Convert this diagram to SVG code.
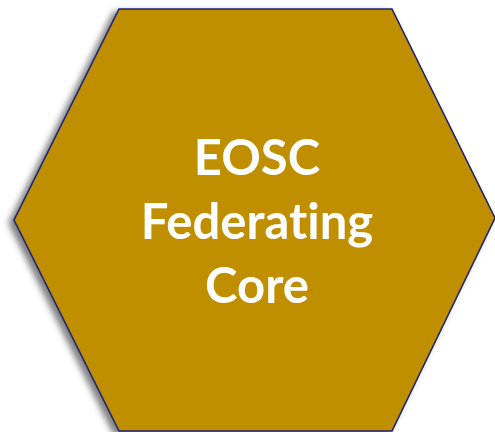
<svg xmlns="http://www.w3.org/2000/svg" width="495" height="432" viewBox="0 0 495 432">
<style>
.hex{fill:#BF8F00;stroke:#1F236E;stroke-width:1.6;stroke-linejoin:miter}
.lbl{font-family:Lato,"Open Sans","Liberation Sans",sans-serif;font-weight:bold;font-size:49px;fill:#FFFFFF;text-anchor:middle;font-variant-ligatures:none;font-feature-settings:"liga" 0}
</style>
<defs>
<filter id="sh" x="-10%" y="-10%" width="120%" height="120%">
<feDropShadow dx="-5" dy="3" stdDeviation="3" flood-color="#000" flood-opacity="0.5"/>
</filter>
</defs>
<rect width="495" height="432" fill="#FFFFFF"/>
<g id="core">
<polygon class="hex" filter="url(#sh)" points="119,9 392,9 495,218 392,431 119,431 14,220"/>
<text class="lbl" x="257" y="175">EOSC</text>
<text class="lbl" x="257" y="239">Federating</text>
<text class="lbl" x="257" y="303">Core</text>
</g>
<g id="connectors"/>
</svg>
